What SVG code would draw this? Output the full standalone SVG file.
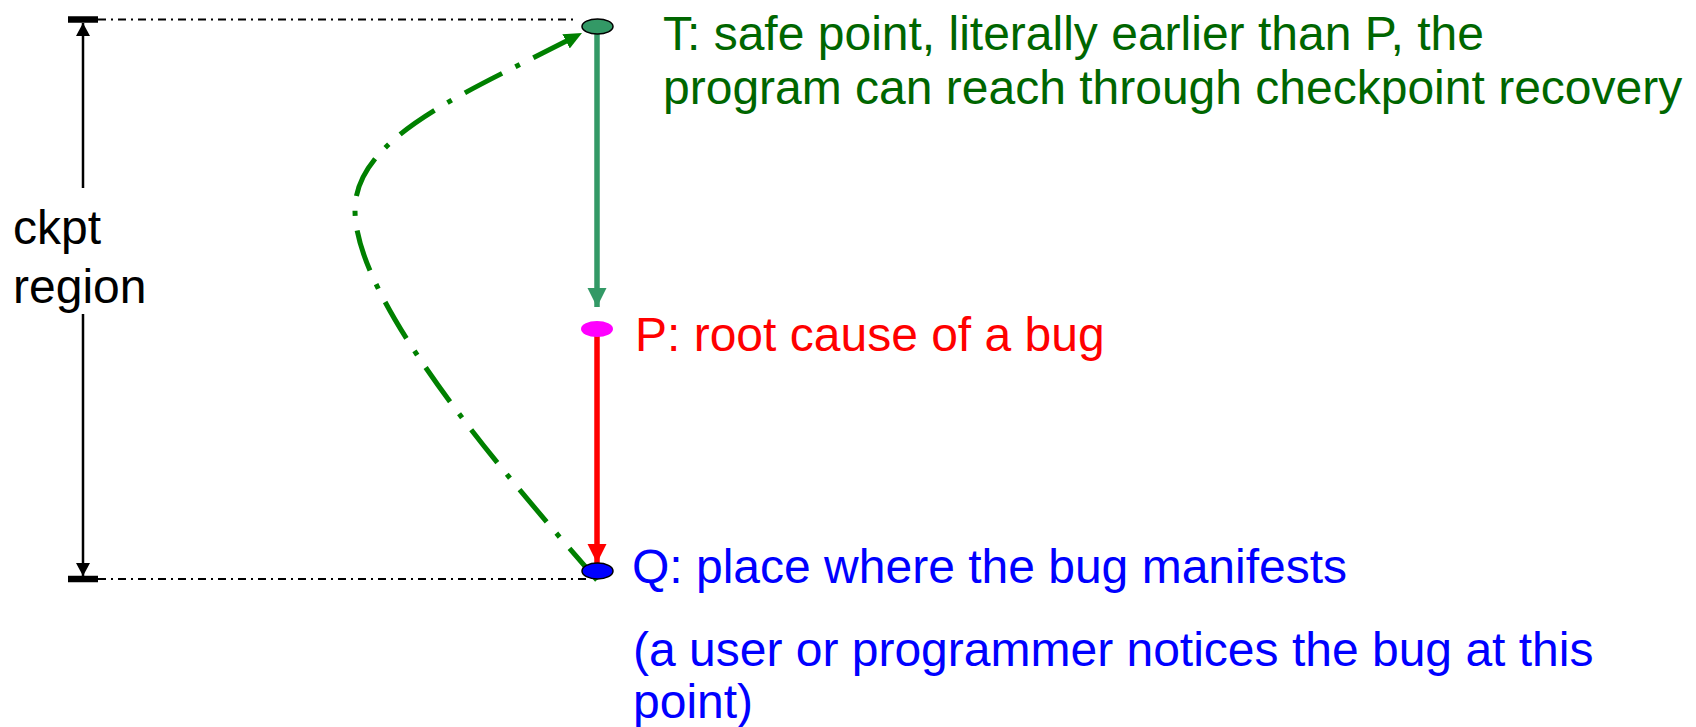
<svg xmlns="http://www.w3.org/2000/svg" width="1696" height="727" viewBox="0 0 1696 727">
<style>
text{font-family:"Liberation Sans",Arial,sans-serif;font-size:48px}
.guide{stroke:#000;stroke-width:2;stroke-dasharray:8 5 2 5;fill:none}
.bar{stroke:#000;stroke-width:6.5}
.dim{stroke:#000;stroke-width:2.5}
</style>
<defs>
<marker id="ahBlack" markerUnits="userSpaceOnUse" markerWidth="16" markerHeight="14" refX="13" refY="7" orient="auto"><path d="M0,0 L13,7 L0,14 Z" fill="#000"/></marker>
<marker id="ahTeal" markerUnits="userSpaceOnUse" markerWidth="20" markerHeight="20" refX="19" refY="9.5" orient="auto"><path d="M0,0 L19,9.5 L0,19 Z" fill="#339966"/></marker>
<marker id="ahRed" markerUnits="userSpaceOnUse" markerWidth="20" markerHeight="20" refX="19" refY="9.5" orient="auto"><path d="M0,0 L19,9.5 L0,19 Z" fill="#ff0000"/></marker>
<marker id="ahGreen" markerUnits="userSpaceOnUse" markerWidth="20" markerHeight="18" refX="18" refY="8" orient="auto"><path d="M0,0 L18,8 L0,16 Z" fill="#008000"/></marker>
</defs>
<g id="connectors">
<line class="guide" x1="98" y1="19.5" x2="578" y2="19.5"/>
<line class="guide" x1="98" y1="579" x2="590" y2="579"/>
<line class="bar" x1="68" y1="19.5" x2="98" y2="19.5"/>
<line class="bar" x1="68" y1="579" x2="98" y2="579"/>
<line class="dim" x1="83" y1="188" x2="83" y2="23" marker-end="url(#ahBlack)"/>
<line class="dim" x1="83" y1="314" x2="83" y2="576" marker-end="url(#ahBlack)"/>
<line x1="597" y1="34" x2="597" y2="307" stroke="#339966" stroke-width="5.5" marker-end="url(#ahTeal)"/>
<line x1="597" y1="336" x2="597" y2="563" stroke="#ff0000" stroke-width="5.5" marker-end="url(#ahRed)"/>
<path d="M597,580 C498,467 355,300 355,210 C355,135 473,90 582,33" fill="none" stroke="#008000" stroke-width="5" stroke-dasharray="42 15 5 15" marker-end="url(#ahGreen)"/>
</g>
<g id="node-T">
<ellipse cx="597.5" cy="26.5" rx="15.5" ry="7.5" fill="#339966" stroke="#000" stroke-width="1.5"/>
<text x="663" y="50" fill="#006600">T: safe point, literally earlier than P, the</text>
<text x="663" y="104" fill="#006600">program can reach through checkpoint recovery</text>
</g>
<g id="node-P">
<ellipse cx="597" cy="329" rx="16" ry="8" fill="#ff00ff"/>
<text x="635" y="351" fill="#ff0000">P: root cause of a bug</text>
</g>
<g id="node-Q">
<ellipse cx="597.5" cy="571" rx="15.5" ry="8" fill="#0000ff" stroke="#000" stroke-width="1.5"/>
<text x="632" y="583" fill="#0000ff">Q: place where the bug manifests</text>
<text x="633" y="666" fill="#0000ff">(a user or programmer notices the bug at this</text>
<text x="633" y="718" fill="#0000ff">point)</text>
</g>
<g id="label-ckpt">
<text x="13" y="244" fill="#000">ckpt</text>
<text x="13" y="303" fill="#000">region</text>
</g>
</svg>
